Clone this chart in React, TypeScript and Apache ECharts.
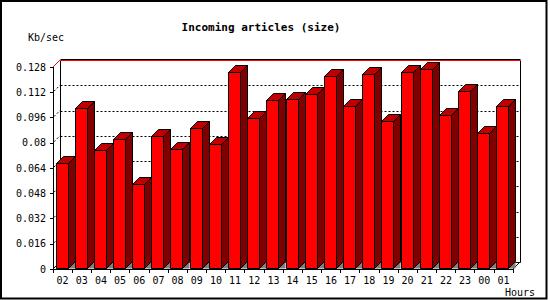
import React, { useEffect, useRef } from "react";
import * as echarts from "echarts";

const hours = ["02","03","04","05","06","07","08","09","10","11","12","13","14","15","16","17","18","19","20","21","22","23","00","01"];
const kbPerSec = [0.067,0.1023,0.0754,0.0821,0.0537,0.084,0.0758,0.0891,0.079,0.1251,0.096,0.1068,0.108,0.1106,0.1226,0.1036,0.1238,0.0935,0.1251,0.127,0.0973,0.1125,0.0859,0.1036];
const yTicks = [0.016,0.032,0.048,0.064,0.08,0.096,0.112];
const yMax = 0.128;
const yStep = 0.016;

const FONT = "DejaVu Sans Mono";
const D = 7;
const r = (v: number) => Math.round(v) + 0.5;

export default function App() {
  const ref = useRef<HTMLDivElement>(null);
  useEffect(() => {
    document.body.style.margin = "0";
    const chart = echarts.init(ref.current!, null, { renderer: "svg" });
    chart.setOption({
      animation: false,
      backgroundColor: "#ffffff",
      grid: { left: 53, top: 67, width: 460, height: 202, containLabel: false },
      xAxis: {
        type: "category",
        data: hours,
        boundaryGap: true,
        axisLine: { lineStyle: { color: "#000", width: 1 } },
        axisTick: { show: true, length: 4, interval: 0, lineStyle: { color: "#000" } },
        axisLabel: { interval: 0, margin: 6, color: "#000", fontFamily: FONT, fontSize: 10 },
        splitLine: { show: false },
      },
      yAxis: {
        type: "value",
        min: 0,
        max: yMax,
        interval: yStep,
        axisLine: { show: true, lineStyle: { color: "#000", width: 1 } },
        axisTick: { show: true, length: 3, lineStyle: { color: "#000" } },
        axisLabel: {
          margin: 7, color: "#000", fontFamily: FONT, fontSize: 10,
          formatter: (v: number) => String(+v.toFixed(3)),
        },
        splitLine: { show: false },
      },
      graphic: [
        { type: "rect", shape: { x: 1, y: 1, width: 545.5, height: 297.5 }, style: { fill: "none", stroke: "#000", lineWidth: 2 }, z: 100 },
        { type: "text", x: 261, y: 27, style: { text: "Incoming articles (size)", fontFamily: FONT, fontSize: 11, fontWeight: "bold", fill: "#000", align: "center", verticalAlign: "middle" } },
        { type: "text", x: 28, y: 37, style: { text: "Kb/sec", fontFamily: FONT, fontSize: 10, fill: "#000", align: "left", verticalAlign: "middle" } },
        { type: "text", x: 535, y: 292, style: { text: "Hours", fontFamily: FONT, fontSize: 10, fill: "#000", align: "right", verticalAlign: "middle" } },
      ],
      series: [
        {
          type: "custom",
          z: 1,
          clip: false,
          silent: true,
          data: [[0, 0]],
          renderItem: (params: any, api: any) => {
            const cs = params.coordSys;
            const x0 = cs.x, x1 = cs.x + cs.width;
            const yTop = cs.y, yBot = cs.y + cs.height;
            const children: any[] = [];
            // back plane fill
            children.push({ type: "rect", shape: { x: x0 + D, y: yTop - D, width: cs.width, height: cs.height }, style: { fill: "#ffffff", stroke: "none" } });
            // dashed grid lines on back plane
            yTicks.forEach((t) => {
              const y = api.coord([0, t])[1];
              children.push({ type: "line", shape: { x1: r(x0 + D), y1: r(y - D), x2: r(x1 + D), y2: r(y - D) }, style: { stroke: "#000", lineWidth: 1, lineDash: [2, 2] } });
              children.push({ type: "line", shape: { x1: x0 + 1, y1: y - 1, x2: x0 + D, y2: y - D }, style: { stroke: "#000", lineWidth: 1, lineDash: [2, 2] } });
            });
            // back frame
            children.push({ type: "line", shape: { x1: r(x0 + D), y1: r(yTop - D), x2: r(x0 + D), y2: r(yBot - D) }, style: { stroke: "#000", lineWidth: 1 } });
            children.push({ type: "line", shape: { x1: r(x1 + D), y1: r(yTop - D), x2: r(x1 + D), y2: r(yBot - D) }, style: { stroke: "#000", lineWidth: 1 } });
            children.push({ type: "line", shape: { x1: r(x0 + D), y1: r(yBot - D), x2: r(x1 + D), y2: r(yBot - D) }, style: { stroke: "#000", lineWidth: 1 } });
            children.push({ type: "line", shape: { x1: r(x0 + D), y1: r(yTop - D) - 1, x2: r(x1 + D), y2: r(yTop - D) - 1 }, style: { stroke: "#000", lineWidth: 1 } });
            children.push({ type: "line", shape: { x1: r(x0 + D), y1: r(yTop - D), x2: r(x1 + D), y2: r(yTop - D) }, style: { stroke: "#ff0000", lineWidth: 1 } });
            // diagonals
            children.push({ type: "line", shape: { x1: x0, y1: yTop, x2: x0 + D, y2: yTop - D }, style: { stroke: "#ff0000", lineWidth: 1 } });
            children.push({ type: "line", shape: { x1: x0, y1: yBot, x2: x0 + D, y2: yBot - D }, style: { stroke: "#000", lineWidth: 1 } });
            children.push({ type: "line", shape: { x1: x1, y1: yBot, x2: x1 + D, y2: yBot - D }, style: { stroke: "#000", lineWidth: 1 } });
            return { type: "group", children };
          },
        },
        {
          type: "custom",
          z: 2,
          clip: false,
          data: kbPerSec.map((v, i) => [i, v]),
          renderItem: (params: any, api: any) => {
            const xi = api.value(0);
            const v = api.value(1);
            const top = api.coord([xi, v]);
            const base = api.coord([xi, 0]);
            const bw = api.size([1, 0])[0];
            const xl = r(top[0] - bw / 2 + 3 - 0.5);
            const xr = xl + 12;
            const yt = r(top[1]);
            const y0 = r(base[1]) - 1;
            const edge = { stroke: "#000", lineWidth: 1, lineJoin: "miter" };
            return {
              type: "group",
              children: [
                { type: "polygon", shape: { points: [[xr, y0], [xr + D, y0 - D], [xr + D, y0]] }, style: { fill: "#808080", stroke: "none" } },
                { type: "polygon", shape: { points: [[xr, yt], [xr + D, yt - D], [xr + D, y0 - D], [xr, y0]] }, style: { fill: "#800000", ...edge } },
                { type: "polygon", shape: { points: [[xl, yt], [xl + D, yt - D], [xr + D, yt - D], [xr, yt]] }, style: { fill: "#c00000", ...edge } },
                { type: "rect", shape: { x: xl, y: yt, width: 12, height: y0 - yt }, style: { fill: "#ff0000", ...edge } },
              ],
            };
          },
        },
      ],
    });
    return () => chart.dispose();
  }, []);
  return <div ref={ref} style={{ position: "absolute", left: 0, top: 0, width: 550, height: 300 }} />;
}
